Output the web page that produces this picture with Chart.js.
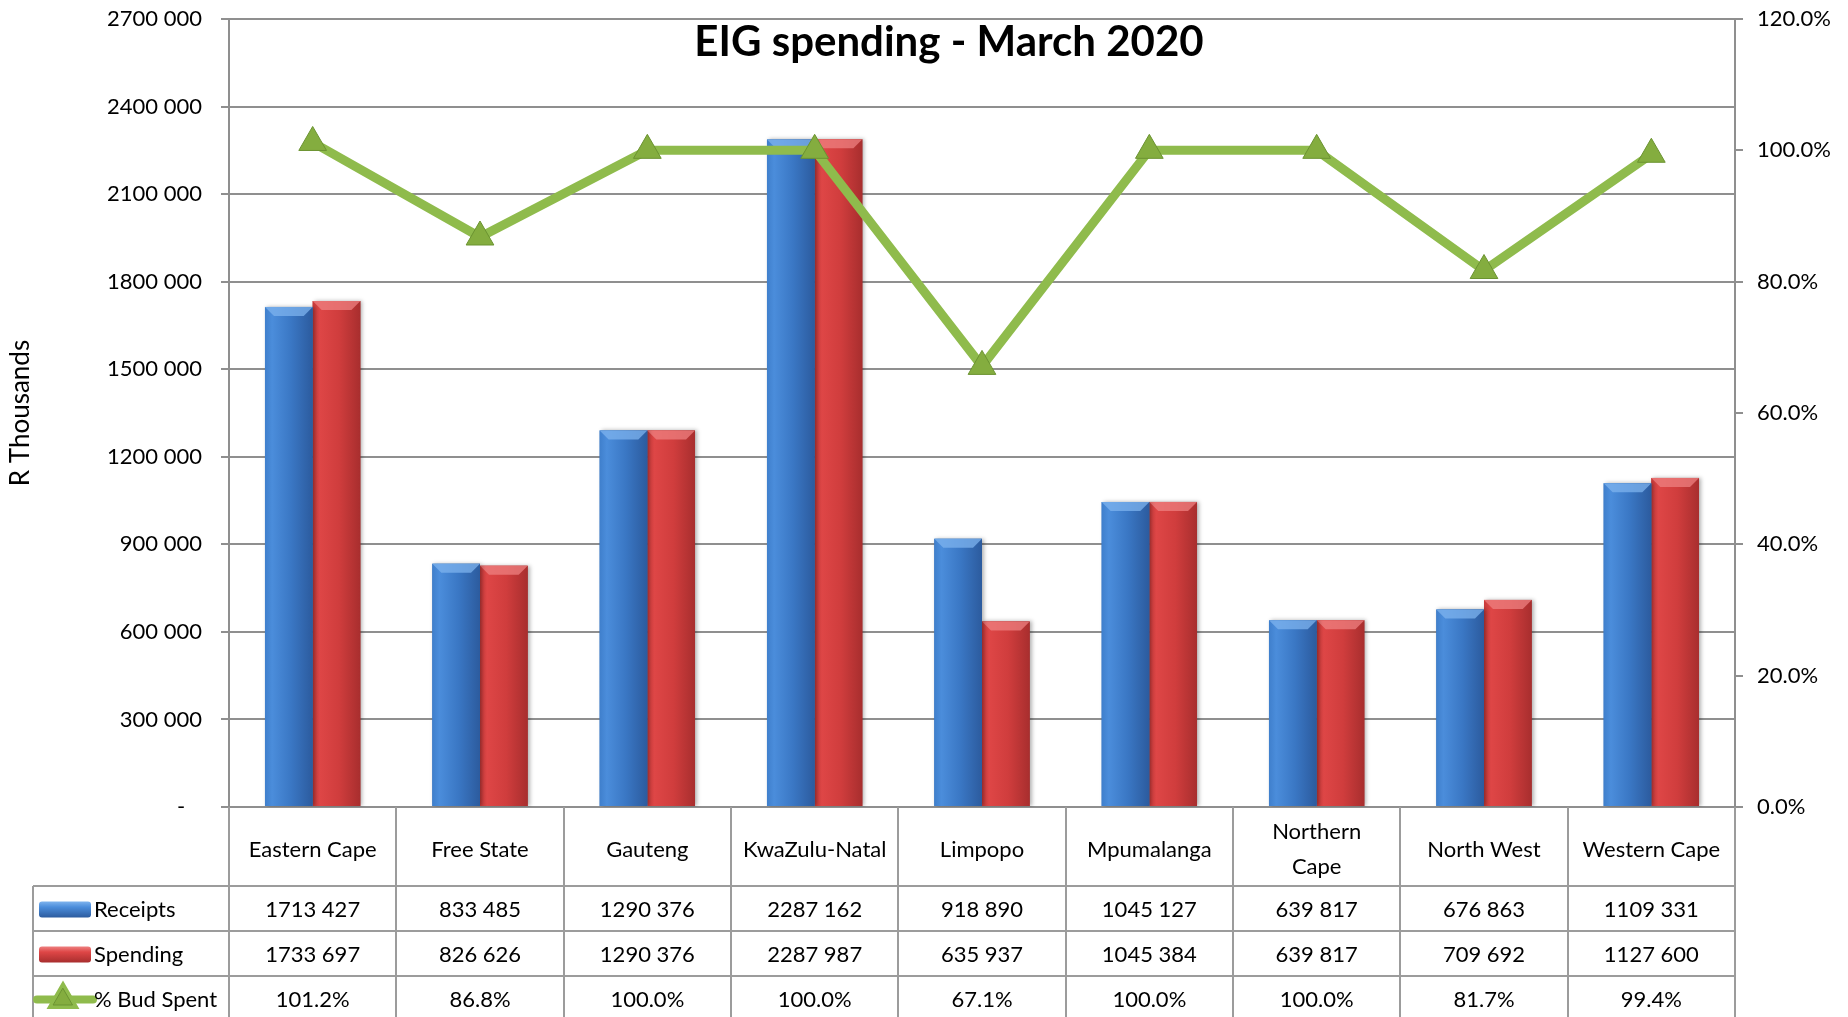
<!DOCTYPE html>
<html>
<head>
<meta charset="utf-8">
<title>EIG spending - March 2020</title>
<script src="https://cdn.jsdelivr.net/npm/chart.js@4.4.0/dist/chart.umd.min.js"></script>
<style>
  html, body { margin: 0; padding: 0; background: #fff; }
  #wrap { width: 1848px; height: 1017px; position: relative; }
</style>
</head>
<body>
<div id="wrap"><canvas id="chart"></canvas></div>
<script>
// EIG spending per province, March 2020 (R thousands)

const provinces = ['Eastern Cape', 'Free State', 'Gauteng', 'KwaZulu-Natal', 'Limpopo', 'Mpumalanga', ['Northern', 'Cape'], 'North West', 'Western Cape']
const receipts  = [1713427, 833485, 1290376, 2287162, 918890, 1045127, 639817, 676863, 1109331]
const spending  = [1733697, 826626, 1290376, 2287987, 635937, 1045384, 639817, 709692, 1127600]
const budSpent  = [101.2, 86.8, 100.0, 100.0, 67.1, 100.0, 100.0, 81.7, 99.4]

const leftMax = 2700000
const leftStep = 300000
const rightMax = 120
const rightStep = 20

const FONT = 'Lato'
const GRID = '#8f8f8f'
const BLUE = ['#3f7fcc', '#4b8ddb', '#3a77c4', '#2c5b9e', '#7eb3ee']
const RED  = ['#c93a3a', '#de4646', '#d03d3d', '#a82e2e', '#ee8080']
const GREEN = '#8fbb4c'

// "2700 000" style, Excel custom number format
function fmtThousands(v) {
    const hi = Math.floor(v / 1000)
    const lo = String(v % 1000).padStart(3, '0')
    return hi > 0 ? hi + ' ' + lo : lo
}

// paint each bar with a bevelled, shaded look over the plain fill
const bevelBars = {
    id: 'bevelBars',
    afterDatasetDraw(chart, args) {
        const shade = chart.data.datasets[args.index].shade
        if (!shade) return
        const ctx = chart.ctx
        const area = chart.chartArea
        ctx.save()
        ctx.beginPath()
        ctx.rect(area.left, area.top, area.right - area.left, area.bottom - area.top)
        ctx.clip()
        args.meta.data.forEach(bar => {
            const { x, y, base, width } = bar.getProps(['x', 'y', 'base', 'width'], true)
            const l = x - width / 2
            const r = x + width / 2
            const g = ctx.createLinearGradient(l, 0, r, 0)
            g.addColorStop(0, shade[0])
            g.addColorStop(0.15, shade[1])
            g.addColorStop(0.55, shade[2])
            g.addColorStop(1, shade[3])
            ctx.shadowColor = 'rgba(0,0,0,0.3)'
            ctx.shadowBlur = 4
            ctx.shadowOffsetX = 2
            ctx.fillStyle = g
            ctx.fillRect(l, y, width, base - y)
            ctx.shadowColor = 'transparent'

            const c = Math.min(9, (base - y) / 2)
            ctx.fillStyle = shade[4]
            ctx.globalAlpha = 0.75
            ctx.beginPath()
            ctx.moveTo(l, y)
            ctx.lineTo(r, y)
            ctx.lineTo(r - c, y + c)
            ctx.lineTo(l + c, y + c)
            ctx.closePath()
            ctx.fill()
            ctx.globalAlpha = 1
        })
        ctx.restore()
    }
}

const chartTitle = {
    id: 'chartTitle',
    afterDraw(chart) {
        const ctx = chart.ctx
        ctx.save()
        ctx.font = 'bold 42px ' + FONT
        ctx.fillStyle = '#000'
        ctx.textAlign = 'center'
        ctx.textBaseline = 'middle'
        ctx.fillText('EIG spending - March 2020', 949, 42)
        ctx.restore()
    }
}

function drawKey(ctx, ds, cx, cy) {
    if (ds.shade) {
        const g = ctx.createLinearGradient(0, cy - 8, 0, cy + 8)
        g.addColorStop(0, ds.shade[4])
        g.addColorStop(0.35, ds.shade[1])
        g.addColorStop(1, ds.shade[3])
        ctx.fillStyle = g
        ctx.beginPath()
        ctx.roundRect(cx - 26, cy - 8, 52, 16, 3)
        ctx.fill()
    } else {
        ctx.strokeStyle = ds.borderColor
        ctx.lineWidth = 8
        ctx.lineCap = 'round'
        ctx.beginPath()
        ctx.moveTo(cx - 28, cy)
        ctx.lineTo(cx + 28, cy)
        ctx.stroke()
        Chart.helpers.drawPoint(ctx, {
            pointStyle: 'triangle', radius: 11, rotation: 0, borderWidth: 1
        }, cx - 2, cy)
        ctx.fillStyle = ds.pointBackgroundColor
        ctx.strokeStyle = ds.pointBorderColor
        ctx.lineWidth = 1
        ctx.fill()
        ctx.stroke()
    }
}

// data table under the plot, columns follow the category scale
const dataTable = {
    id: 'dataTable',
    afterDraw(chart) {
        const { ctx, chartArea: area, scales: { x } } = chart
        const n = provinces.length
        const colW = (area.right - area.left) / n
        const headH = 79
        const rowH = 45
        const keyLeft = 33
        const rowsTop = area.bottom + headH

        ctx.save()
        ctx.strokeStyle = '#9c9c9c'
        ctx.lineWidth = 2

        ctx.beginPath()
        for (let i = 0; i <= n; i++) {
            const xx = Math.round(area.left + i * colW)
            ctx.moveTo(xx, area.bottom)
            ctx.lineTo(xx, chart.height)
        }
        ctx.moveTo(keyLeft, rowsTop)
        ctx.lineTo(keyLeft, chart.height)
        for (let k = 0; k < 3; k++) {
            ctx.moveTo(keyLeft, rowsTop + k * rowH)
            ctx.lineTo(area.right, rowsTop + k * rowH)
        }
        ctx.stroke()

        ctx.fillStyle = '#000'
        ctx.font = '22px ' + FONT
        ctx.textAlign = 'center'
        ctx.textBaseline = 'middle'

        provinces.forEach((name, i) => {
            const cx = x.getPixelForValue(i)
            const lines = Array.isArray(name) ? name : [name]
            const lh = 35
            const y0 = area.bottom + headH / 2 + 3 - (lines.length - 1) * lh / 2
            lines.forEach((t, j) => ctx.fillText(t, cx, y0 + j * lh))
        })

        const rows = [
            { ds: chart.data.datasets[1], text: receipts.map(fmtThousands) },
            { ds: chart.data.datasets[2], text: spending.map(fmtThousands) },
            { ds: chart.data.datasets[0], text: budSpent.map(v => v.toFixed(1) + '%') }
        ]
        rows.forEach((row, k) => {
            const cy = rowsTop + k * rowH + rowH / 2 + 1
            ctx.save()
            drawKey(ctx, row.ds, 65, cy)
            ctx.restore()
            ctx.fillStyle = '#000'
            ctx.textAlign = 'left'
            ctx.fillText(row.ds.label, 94, cy)
            ctx.textAlign = 'center'
            row.text.forEach((t, i) => ctx.fillText(t, x.getPixelForValue(i), cy))
        })
        ctx.restore()
    }
}

const tickFont = { family: FONT, size: 22 }

// fixed axis widths; label overhang must not push the plot down
const fitWidth = w => s => {
    s.width = w
    s.paddingTop = 0
    s.paddingBottom = 0
}

new Chart(document.getElementById('chart'), {
    data: {
        labels: provinces,
        datasets: [
            {
                type: 'line',
                label: '% Bud Spent',
                data: budSpent,
                yAxisID: 'y1',
                order: 0,
                borderColor: GREEN,
                borderWidth: 9,
                pointStyle: 'triangle',
                pointRadius: 16,
                pointBackgroundColor: '#84ad3f',
                pointBorderColor: '#6b9331',
                pointBorderWidth: 1,
                tension: 0
            },
            {
                type: 'bar',
                label: 'Receipts',
                data: receipts,
                yAxisID: 'y',
                order: 1,
                backgroundColor: BLUE[2],
                shade: BLUE,
                barPercentage: 1,
                categoryPercentage: 0.57
            },
            {
                type: 'bar',
                label: 'Spending',
                data: spending,
                yAxisID: 'y',
                order: 2,
                backgroundColor: RED[2],
                shade: RED,
                barPercentage: 1,
                categoryPercentage: 0.57
            }
        ]
    },
    options: {
        responsive: true,
        maintainAspectRatio: false,
        animation: false,
        layout: { padding: { top: 19, bottom: 210, left: 0, right: 0 } },
        plugins: {
            legend: { display: false },
            tooltip: { enabled: false }
        },
        scales: {
            x: {
                display: false,
                offset: true
            },
            y: {
                position: 'left',
                min: 0,
                max: leftMax,
                ticks: {
                    stepSize: leftStep,
                    color: '#000',
                    font: tickFont,
                    padding: 19,
                    callback: v => v === 0 ? '-   ' : fmtThousands(v)
                },
                grid: { color: GRID, lineWidth: 2, tickLength: 8 },
                border: { color: GRID, width: 2 },
                title: {
                    display: true,
                    text: 'R Thousands',
                    color: '#000',
                    font: { family: FONT, size: 26 },
                    padding: { top: 5, bottom: 0 }
                },
                afterFit: fitWidth(229)
            },
            y1: {
                position: 'right',
                min: 0,
                max: rightMax,
                ticks: {
                    stepSize: rightStep,
                    color: '#000',
                    font: tickFont,
                    padding: 14,
                    callback: v => v.toFixed(1) + '%'
                },
                grid: { drawOnChartArea: false, color: GRID, lineWidth: 2, tickLength: 8 },
                border: { color: GRID, width: 2 },
                afterFit: fitWidth(113)
            }
        }
    },
    plugins: [bevelBars, chartTitle, dataTable]
})
</script>
</body>
</html>
